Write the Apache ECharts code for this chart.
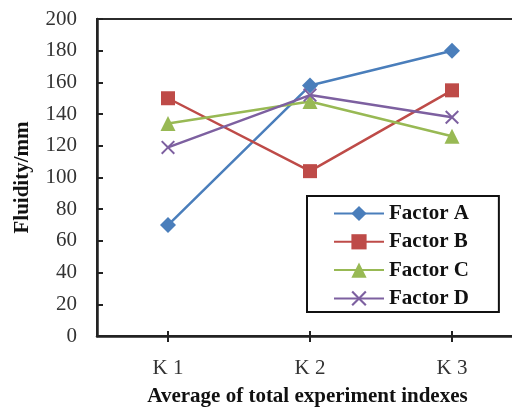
<!DOCTYPE html>
<html>
<head>
<meta charset="utf-8">
<script src="https://cdn.jsdelivr.net/npm/echarts@6/dist/echarts.min.js"></script>
<style>
  html, body { margin: 0; padding: 0; background: #fff; }
</style>
</head>
<body>
<div id="main" style="width: 512px;height:409px;"></div>
<script>
// data
var categories = ['K 1', 'K 2', 'K 3']
var factorA = [70, 158, 180]
var factorB = [150, 104, 155]
var factorC = [134, 148, 126]
var factorD = [119, 152, 138]
var yTicks = { min: 0, max: 200, interval: 20 }

var serif = '"Liberation Serif", "Times New Roman", serif'
var crossPath = 'path://M0,1L1,0L5,4L9,0L10,1L6,5L10,9L9,10L5,6L1,10L0,9L4,5Z'

function makeSeries (name, data, color, symbol, size) {
  return {
    name: name,
    type: 'line',
    data: data,
    symbol: symbol,
    symbolSize: size,
    showAllSymbol: true,
    lineStyle: { color: color, width: 2.5 },
    itemStyle: { color: color },
    emphasis: { disabled: true }
  }
}

var chartDom = document.getElementById('main')
var myChart = echarts.init(chartDom)
var option = {
  backgroundColor: '#fff',
  animation: false,
  grid: {
    left: 97,
    top: 19,
    width: 426,
    height: 317,
    show: true,
    borderColor: '#2b2b2b',
    borderWidth: 2,
    containLabel: false,
    outerBoundsMode: 'none'
  },
  legend: {
    orient: 'vertical',
    left: 307,
    top: 196,
    padding: [7, 30, 3, 26],
    itemGap: 7.3,
    itemWidth: 50,
    itemHeight: 19,
    borderColor: '#111',
    borderWidth: 2,
    backgroundColor: '#fff',
    textStyle: { fontFamily: serif, fontWeight: 'bold', fontSize: 21, color: '#111' },
    data: ['Factor A', 'Factor B', 'Factor C', 'Factor D']
  },
  xAxis: [{
    type: 'category',
    data: categories,
    boundaryGap: true,
    axisLine: { lineStyle: { color: '#222', width: 2.5 } },
    axisTick: { show: true, inside: false, length: 6, alignWithLabel: true, lineStyle: { color: '#222', width: 2 } },
    axisLabel: { fontFamily: serif, fontSize: 21, color: '#333', margin: 22 },
    splitLine: { show: false },
    name: 'Average of total experiment indexes',
    nameLocation: 'middle',
    nameGap: 50,
    nameTextStyle: { fontFamily: serif, fontWeight: 'bold', fontSize: 21, color: '#111', padding: [0, 5, 0, 0] }
  }, {
    type: 'category',
    data: categories,
    position: 'bottom',
    boundaryGap: true,
    axisLine: { show: false },
    axisTick: { show: true, inside: true, length: 5, alignWithLabel: true, lineStyle: { color: '#222', width: 2 } },
    axisLabel: { show: false }
  }],
  yAxis: {
    type: 'value',
    min: yTicks.min,
    max: yTicks.max,
    interval: yTicks.interval,
    axisLine: { show: true, lineStyle: { color: '#222', width: 2.5 } },
    axisTick: { show: true, inside: true, length: 6, lineStyle: { color: '#222', width: 2 } },
    axisLabel: { fontFamily: serif, fontSize: 21, color: '#333', margin: 20 },
    splitLine: { show: false },
    name: 'Fluidity/mm',
    nameLocation: 'middle',
    nameGap: 64,
    nameTextStyle: { fontFamily: serif, fontWeight: 'bold', fontSize: 21, color: '#111' }
  },
  series: [
    makeSeries('Factor A', factorA, '#4a7ebb', 'diamond', 16),
    makeSeries('Factor B', factorB, '#be4b48', 'rect', 14),
    makeSeries('Factor C', factorC, '#98b954', 'triangle', 15),
    makeSeries('Factor D', factorD, '#7d60a0', crossPath, 14)
  ]
}
option && myChart.setOption(option)
</script>
</body>
</html>
